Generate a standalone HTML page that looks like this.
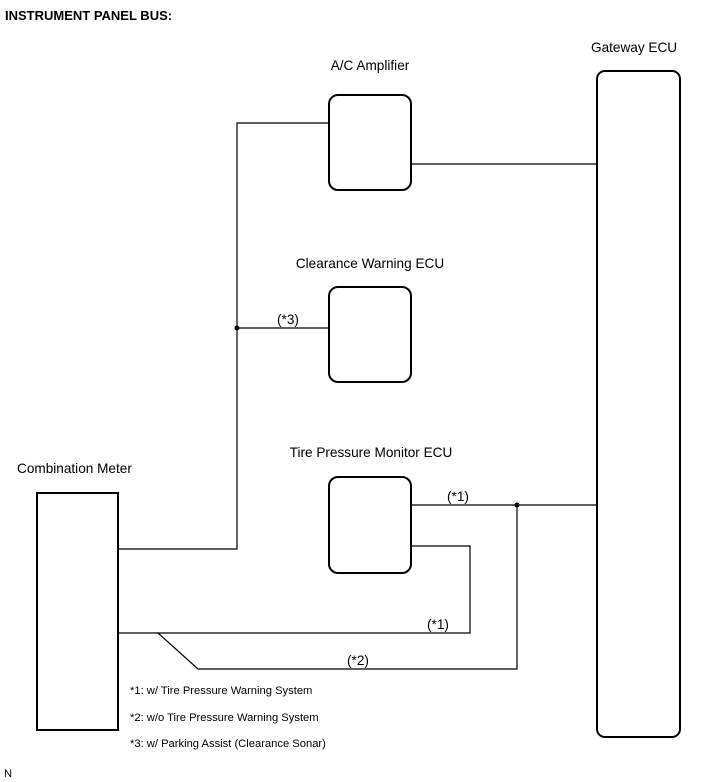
<!DOCTYPE html>
<html><head><style>
body{margin:0;background:#fff;}
svg{display:block;font-family:"Liberation Sans",Arial,sans-serif;}
</style></head><body>
<svg width="713" height="782" viewBox="0 0 713 782">
<g fill="none" stroke="#000">
<rect x="37" y="493" width="81" height="237" stroke-width="2"/>
<rect x="597" y="71" width="83" height="666" rx="8" stroke-width="2"/>
<rect x="329" y="95" width="82" height="95" rx="9" stroke-width="2"/>
<rect x="329" y="287" width="82" height="95" rx="9" stroke-width="2"/>
<rect x="329" y="477" width="82" height="96" rx="9" stroke-width="2"/>
<g stroke-width="1.2">
<polyline points="329,123 237,123 237,549 118,549"/>
<line x1="237" y1="328" x2="329" y2="328"/>
<line x1="411" y1="164" x2="597" y2="164"/>
<line x1="411" y1="505" x2="597" y2="505"/>
<polyline points="411,546 470,546 470,633 118,633"/>
<polyline points="158,633 198,669 517,669 517,505"/>
</g>
</g>
<circle cx="237" cy="328" r="2.5"/>
<circle cx="517" cy="505" r="2.5"/>
<g font-size="13.6" fill="#000">
<text x="5" y="20" font-weight="bold" font-size="13">INSTRUMENT PANEL BUS:</text>
<text x="591" y="52">Gateway ECU</text>
<text x="370" y="70" text-anchor="middle">A/C Amplifier</text>
<text x="370" y="268" text-anchor="middle">Clearance Warning ECU</text>
<text x="371" y="457" text-anchor="middle">Tire Pressure Monitor ECU</text>
<text x="17" y="473">Combination Meter</text>
<text x="277" y="324">(*3)</text>
<text x="447" y="501">(*1)</text>
<text x="427" y="629">(*1)</text>
<text x="347" y="665">(*2)</text>
</g>
<g font-size="11.2" fill="#000">
<text x="130" y="694">*1: w/ Tire Pressure Warning System</text>
<text x="130" y="721">*2: w/o Tire Pressure Warning System</text>
<text x="130" y="747">*3: w/ Parking Assist (Clearance Sonar)</text>
<text x="4" y="777">N</text>
</g>
</svg>
</body></html>
